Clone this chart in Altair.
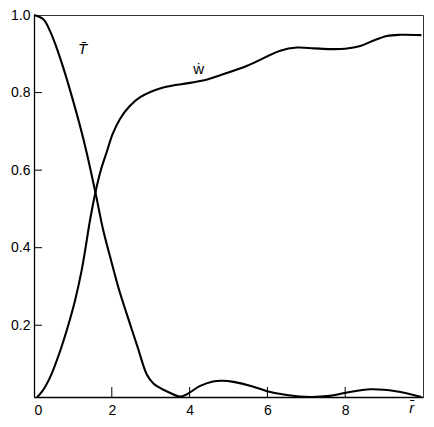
import altair as alt
import pandas as pd

# --- data ---
t_r = [0.0, 0.24, 0.41, 0.58, 0.75, 0.93, 1.18, 1.35, 1.58, 1.78, 1.99, 2.20, 2.44, 2.66,
       2.90, 3.07, 3.30, 3.49, 3.75, 3.93, 4.26, 4.60, 4.85, 5.13, 5.60, 5.99, 6.50, 7.10,
       7.60, 8.02, 8.65, 9.30, 9.96]
t_v = [1.0, 0.989, 0.959, 0.916, 0.865, 0.805, 0.715, 0.647, 0.542, 0.445, 0.364, 0.287,
       0.212, 0.145, 0.073, 0.050, 0.035, 0.026, 0.016, 0.022, 0.043, 0.055, 0.057, 0.054,
       0.043, 0.030, 0.020, 0.015, 0.018, 0.026, 0.035, 0.030, 0.015]

w_r = [0.08, 0.20, 0.41, 0.67, 0.88, 1.05, 1.22, 1.31, 1.43, 1.58, 1.73, 1.88, 2.02, 2.21,
       2.45, 2.73, 3.32, 4.01, 4.43, 4.77, 5.48, 6.33, 6.76, 7.20, 7.62, 8.00, 8.39, 8.70,
       9.07, 9.42, 9.96]
w_v = [0.015, 0.028, 0.065, 0.133, 0.200, 0.262, 0.339, 0.390, 0.465, 0.543, 0.604, 0.650,
       0.693, 0.732, 0.764, 0.788, 0.813, 0.825, 0.833, 0.844, 0.869, 0.908, 0.916, 0.914,
       0.912, 0.913, 0.920, 0.933, 0.946, 0.949, 0.948]

x_ticks = [0, 2, 4, 6, 8]
y_ticks = [0.2, 0.4, 0.6, 0.8, 1.0]
inner_x_ticks = [2, 4, 6, 8]
inner_y_ticks = [0.2, 0.4, 0.6, 0.8]

label_text = ["T\u0304", "\u1e87"]
label_r = [1.25, 4.23]
label_v = [0.900, 0.849]

FONT = "Liberation Sans"

df = pd.concat([
    pd.DataFrame({"r": t_r, "v": t_v, "s": "T"}),
    pd.DataFrame({"r": w_r, "v": w_v, "s": "w"}),
])

xs = alt.Scale(domain=[0, 10], nice=False, zero=False)
ys = alt.Scale(domain=[0.015, 1.0], nice=False, zero=False)

lines = alt.Chart(df).mark_line(color="black", strokeWidth=2.1, interpolate="catmull-rom").encode(
    x=alt.X("r:Q", scale=xs, axis=alt.Axis(values=x_ticks, format="d", title=None, grid=False,
                                            ticks=False, labelPadding=6, domainColor="black",
                                            domainWidth=1.3, labelFontSize=14, labelFont=FONT,
                                            labelColor="black")),
    y=alt.Y("v:Q", scale=ys, axis=alt.Axis(values=y_ticks, format=".1f", title=None, grid=False,
                                            ticks=False, labelPadding=4, domainColor="black",
                                            domainWidth=1.3, labelFontSize=14, labelFont=FONT,
                                            labelColor="black")),
    detail="s:N",
)

xt = alt.Chart(pd.DataFrame({"r": inner_x_ticks})).mark_rule(color="black", strokeWidth=1).encode(
    x=alt.X("r:Q", scale=xs), y=alt.value(382), y2=alt.value(372))
yt = alt.Chart(pd.DataFrame({"v": inner_y_ticks})).mark_rule(color="black", strokeWidth=1).encode(
    y=alt.Y("v:Q", scale=ys), x=alt.value(0), x2=alt.value(8))

lab_df = pd.DataFrame({"t": label_text, "r": label_r, "v": label_v})
lab_t = alt.Chart(lab_df.iloc[[0]]).mark_text(font=FONT, fontSize=15, fontStyle="italic",
                                               baseline="alphabetic", color="black").encode(
    x=alt.X("r:Q", scale=xs), y=alt.Y("v:Q", scale=ys), text="t:N")
lab_w = alt.Chart(lab_df.iloc[[1]]).mark_text(font=FONT, fontSize=15,
                                               baseline="alphabetic", color="black").encode(
    x=alt.X("r:Q", scale=xs), y=alt.Y("v:Q", scale=ys), text="t:N")

rlab = alt.Chart(pd.DataFrame({"t": ["r\u0304"], "r": [9.71]})).mark_text(
    font=FONT, fontSize=15, fontStyle="italic", baseline="alphabetic", color="black").encode(
    x=alt.X("r:Q", scale=xs), y=alt.value(398), text="t:N")

chart = alt.layer(lines, xt, yt, lab_t, lab_w, rlab).properties(
    width=389, height=382,
    autosize=alt.AutoSizeParams(type="none"),
    padding={"left": 26, "top": 7, "right": 3, "bottom": 21},
).configure_view(stroke="#333", strokeWidth=1)

chart.save("out.html", embed_options={"renderer": "svg", "actions": False})
